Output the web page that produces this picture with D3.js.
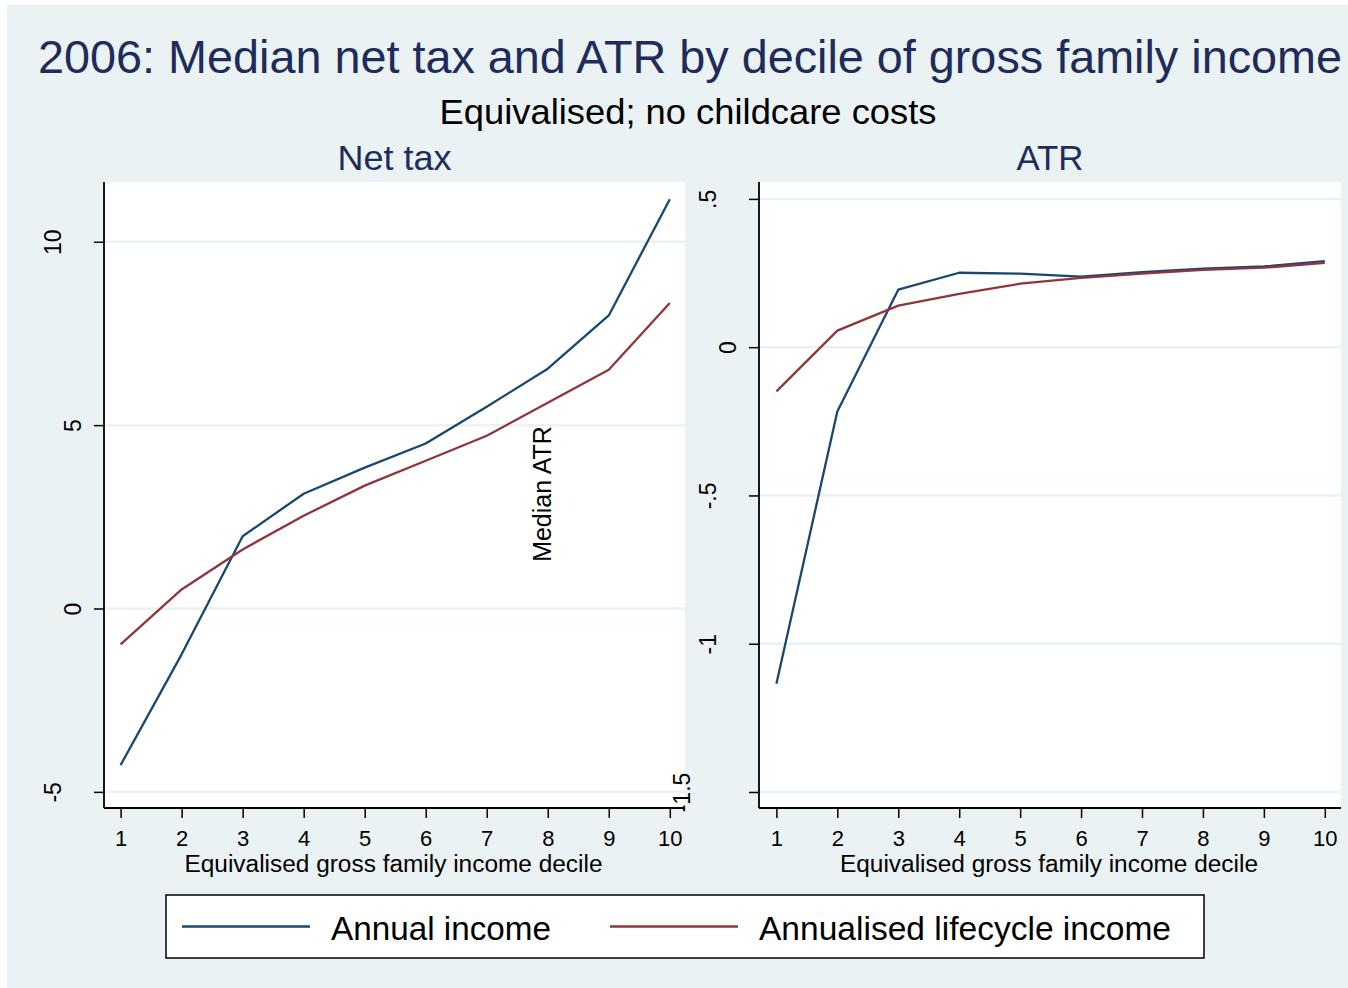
<!DOCTYPE html>
<html>
<head>
<meta charset="utf-8">
<script src="https://cdn.jsdelivr.net/npm/d3@7"></script>
<style>
  html, body { margin: 0; padding: 0; background: #ffffff; }
  svg { display: block; }
  text { font-family: "Liberation Sans", Arial, Helvetica, sans-serif; }
</style>
</head>
<body>
<svg id="chart" width="1348" height="988"></svg>
<script>
// Deciles of equivalised gross family income
const deciles = [1, 2, 3, 4, 5, 6, 7, 8, 9, 10];

// Median net tax by decile
const netTaxAnnual    = [-4.27, -1.25, 1.97, 3.13, 3.84, 4.50, 5.50, 6.54, 7.99, 11.16];
const netTaxLifecycle = [-0.98, 0.52, 1.61, 2.53, 3.35, 4.03, 4.71, 5.61, 6.51, 8.33];

// Median average tax rate by decile
const atrAnnual    = [-1.135, -0.217, 0.194, 0.251, 0.248, 0.238, 0.253, 0.265, 0.272, 0.290];
const atrLifecycle = [-0.149, 0.056, 0.140, 0.180, 0.214, 0.234, 0.248, 0.261, 0.268, 0.284];

// Axis ticks and their printed labels
const netTaxTicks = [-5, 0, 5, 10];
const netTaxTickLabels = ["-5", "0", "5", "10"];
const atrTicks = [-1.5, -1, -0.5, 0, 0.5];
const atrTickLabels = ["-1.5", "-1", "-.5", "0", ".5"];

const seriesNames = ["Annual income", "Annualised lifecycle income"];

const COL_BG = "#eaf2f3";
const COL_TITLE = "#1e2c5c";
const COL_BLUE = "#1a476f";
const COL_RED = "#90353b";

const svg = d3.select("#chart");

// graph region background
svg.append("rect").attr("x", 7).attr("y", 5).attr("width", 1341).attr("height", 983).attr("fill", COL_BG);

// titles
svg.append("text").attr("x", 690).attr("y", 73).attr("text-anchor", "middle")
  .attr("font-size", 46).attr("fill", COL_TITLE)
  .attr("textLength", 1304).attr("lengthAdjust", "spacingAndGlyphs")
  .text("2006: Median net tax and ATR by decile of gross family income");
svg.append("text").attr("x", 688).attr("y", 124).attr("text-anchor", "middle")
  .attr("font-size", 35).attr("fill", "#000")
  .attr("textLength", 497).attr("lengthAdjust", "spacingAndGlyphs")
  .text("Equivalised; no childcare costs");

const PLOT_TOP = 182, PLOT_BOTTOM = 808;

const panels = [
  {
    title: "Net tax", titleLen: 114,
    x0: 104, x1: 685, xr: [120.6, 669.8],
    domain: [-5.44, 11.63], ticks: netTaxTicks, labels: netTaxTickLabels,
    series: [netTaxAnnual, netTaxLifecycle]
  },
  {
    title: "ATR", titleLen: 67,
    x0: 759, x1: 1341, xr: [776.4, 1324.8],
    domain: [-1.554, 0.557], ticks: atrTicks, labels: atrTickLabels,
    series: [atrAnnual, atrLifecycle]
  }
];

const colors = [COL_BLUE, COL_RED];

panels.forEach((p, pi) => {
  const g = svg.append("g");
  const x = d3.scaleLinear().domain([1, 10]).range(p.xr);
  const y = d3.scaleLinear().domain(p.domain).range([PLOT_BOTTOM, PLOT_TOP]);

  // plot region
  g.append("rect").attr("x", p.x0).attr("y", PLOT_TOP)
    .attr("width", p.x1 - p.x0).attr("height", PLOT_BOTTOM - PLOT_TOP)
    .attr("fill", "#ffffff");

  // grid lines
  g.append("g").selectAll("line").data(p.ticks).join("line")
    .attr("x1", p.x0).attr("x2", p.x1)
    .attr("y1", d => y(d)).attr("y2", d => y(d))
    .attr("stroke", COL_BG).attr("stroke-width", 2.5);

  // panel title
  g.append("text").attr("x", (p.x0 + p.x1) / 2).attr("y", 170)
    .attr("text-anchor", "middle").attr("font-size", 35).attr("fill", COL_TITLE)
    .attr("textLength", p.titleLen).attr("lengthAdjust", "spacingAndGlyphs")
    .text(p.title);

  // series lines
  const line = d3.line().x((d, i) => x(deciles[i])).y(d => y(d));
  p.series.forEach((s, si) => {
    g.append("path").datum(s).attr("d", line)
      .attr("fill", "none").attr("stroke", colors[si]).attr("stroke-width", 2.3)
      .attr("stroke-linejoin", "round");
  });

  // x axis
  const xAxis = g.append("g").attr("transform", `translate(0,${PLOT_BOTTOM})`)
    .call(d3.axisBottom(x).tickValues(deciles).tickSize(10).tickSizeOuter(0).tickPadding(4).tickFormat(d3.format("d")));
  xAxis.select(".domain").attr("d", `M${p.x0},0H${p.x1}`);
  xAxis.selectAll("line").attr("stroke", "#000").attr("stroke-width", 1.5);
  xAxis.select(".domain").attr("stroke", "#000").attr("stroke-width", 1.8);
  xAxis.selectAll("text").attr("font-size", 22).attr("fill", "#000")
    .attr("dy", null).attr("y", 38);

  // x axis title
  g.append("text").attr("x", (p.x0 + p.x1) / 2 - 1).attr("y", 872)
    .attr("text-anchor", "middle").attr("font-size", 23).attr("fill", "#000")
    .attr("textLength", 418).attr("lengthAdjust", "spacingAndGlyphs")
    .text("Equivalised gross family income decile");

  // y axis
  const yAxis = g.append("g").attr("transform", `translate(${p.x0},0)`)
    .call(d3.axisLeft(y).tickValues(p.ticks).tickSize(10).tickSizeOuter(0)
      .tickFormat((d, i) => p.labels[i]));
  yAxis.select(".domain").attr("d", `M0,${PLOT_TOP}V${PLOT_BOTTOM}`)
    .attr("stroke", "#000").attr("stroke-width", 1.8);
  yAxis.selectAll("line").attr("stroke", "#000").attr("stroke-width", 1.5);
  yAxis.selectAll(".tick text")
    .attr("font-size", 23).attr("fill", "#000")
    .attr("text-anchor", "middle").attr("dominant-baseline", "central")
    .attr("dy", null)
    .attr("x", null)
    .attr("transform", function (d, i) {
      const n = p.labels[i].length;
      const off = n === 1 ? 31 : (n <= 3 ? 51 : 77);
      return `translate(${-off},0) rotate(-90)`;
    });
});

// y axis title of the ATR panel
svg.append("text").attr("transform", "translate(541.5,494) rotate(-90)")
  .attr("text-anchor", "middle").attr("dominant-baseline", "central")
  .attr("font-size", 25).attr("fill", "#000")
  .text("Median ATR");

// legend
const legend = svg.append("g");
legend.append("rect").attr("x", 166).attr("y", 895).attr("width", 1038).attr("height", 63)
  .attr("fill", "#ffffff").attr("stroke", "#000").attr("stroke-width", 1.5);
const legendItems = [
  { x1: 182, x2: 310, tx: 331, len: 220 },
  { x1: 610, x2: 738, tx: 759, len: 412 }
];
legendItems.forEach((it, i) => {
  legend.append("line").attr("x1", it.x1).attr("x2", it.x2).attr("y1", 926.5).attr("y2", 926.5)
    .attr("stroke", colors[i]).attr("stroke-width", 2.5);
  legend.append("text").attr("x", it.tx).attr("y", 940).attr("font-size", 33).attr("fill", "#000")
    .attr("textLength", it.len).attr("lengthAdjust", "spacingAndGlyphs")
    .text(seriesNames[i]);
});
</script>
</body>
</html>
